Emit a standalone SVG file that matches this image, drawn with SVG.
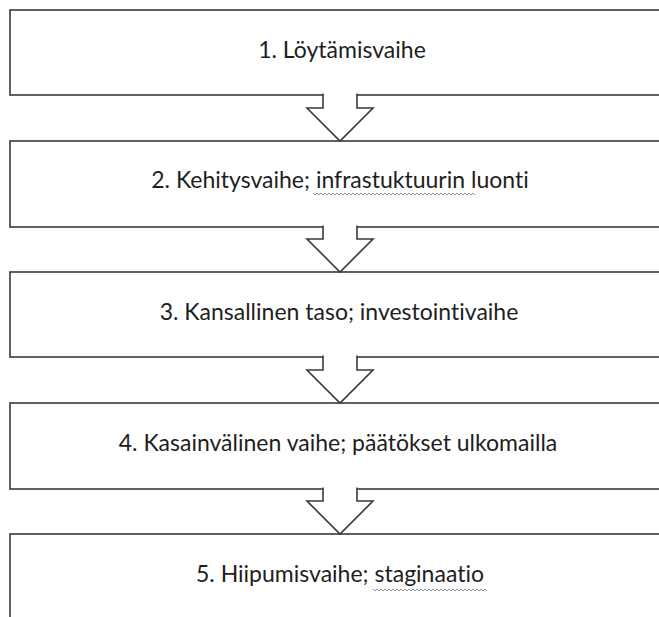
<svg xmlns="http://www.w3.org/2000/svg" width="659" height="617" viewBox="0 0 659 617">
<style>
.box{fill:#fff;stroke:#3a3a3a;stroke-width:1.6}
.lbl{font-family:Lato,"Open Sans","Liberation Sans",sans-serif;font-size:23px;fill:#1e1e1e;text-anchor:middle;font-variant-ligatures:none}
.arr{fill:#fff;stroke:#3a3a3a;stroke-width:1.6;stroke-linejoin:miter}
.sq{fill:none;stroke:#8f93a8;stroke-width:1}
</style>
<rect width="659" height="617" fill="#fff"/>
<g id="node1">
<rect class="box" x="10" y="10" width="670" height="85"/>
<text class="lbl" x="342" y="58">1. Löytämisvaihe</text>
</g>
<g id="node2">
<rect class="box" x="10" y="141" width="670" height="86"/>
<text class="lbl" x="340" y="188">2. Kehitysvaihe; infrastuktuurin luonti</text>
<path class="sq" d="M313,193 l2,2 l2,-2 l2,2 l2,-2 l2,2 l2,-2 l2,2 l2,-2 l2,2 l2,-2 l2,2 l2,-2 l2,2 l2,-2 l2,2 l2,-2 l2,2 l2,-2 l2,2 l2,-2 l2,2 l2,-2 l2,2 l2,-2 l2,2 l2,-2 l2,2 l2,-2 l2,2 l2,-2 l2,2 l2,-2 l2,2 l2,-2 l2,2 l2,-2 l2,2 l2,-2 l2,2 l2,-2 l2,2 l2,-2 l2,2 l2,-2 l2,2 l2,-2 l2,2 l2,-2 l2,2 l2,-2 l2,2 l2,-2 l2,2 l2,-2 l2,2 l2,-2 l2,2 l2,-2 l2,2 l2,-2 l2,2 l2,-2 l2,2 l2,-2 l2,2 l2,-2 l2,2 l2,-2 l2,2 l2,-2 l2,2 l2,-2 l2,2 l2,-2 l2,2 l2,-2 l2,2 l2,-2 l2,2 l2,-2 l2,2"/>
</g>
<g id="node3">
<rect class="box" x="10" y="272" width="670" height="85"/>
<text class="lbl" x="339" y="320">3. Kansallinen taso; investointivaihe</text>
</g>
<g id="node4">
<rect class="box" x="10" y="403" width="670" height="86"/>
<text class="lbl" x="338" y="451">4. Kasainvälinen vaihe; päätökset ulkomailla</text>
</g>
<g id="node5">
<rect class="box" x="10" y="534" width="670" height="100"/>
<text class="lbl" x="340" y="582">5. Hiipumisvaihe; staginaatio</text>
<path class="sq" d="M373,589 l2,2 l2,-2 l2,2 l2,-2 l2,2 l2,-2 l2,2 l2,-2 l2,2 l2,-2 l2,2 l2,-2 l2,2 l2,-2 l2,2 l2,-2 l2,2 l2,-2 l2,2 l2,-2 l2,2 l2,-2 l2,2 l2,-2 l2,2 l2,-2 l2,2 l2,-2 l2,2 l2,-2 l2,2 l2,-2 l2,2 l2,-2 l2,2 l2,-2 l2,2 l2,-2 l2,2 l2,-2 l2,2 l2,-2 l2,2 l2,-2 l2,2 l2,-2 l2,2 l2,-2 l2,2 l2,-2 l2,2 l2,-2 l2,2 l2,-2 l2,2 l2,-2 l2,2"/>
</g>
<g id="connectors">
<path class="arr" d="M323,93.5 V108 H307 L340,141 L373,108 H357 V93.5"/>
<path class="arr" d="M323,225.5 V239 H307 L340,272 L373,239 H357 V225.5"/>
<path class="arr" d="M323,355.5 V370 H307 L340,403 L373,370 H357 V355.5"/>
<path class="arr" d="M323,487.5 V501 H307 L340,534 L373,501 H357 V487.5"/>
</g>
</svg>
